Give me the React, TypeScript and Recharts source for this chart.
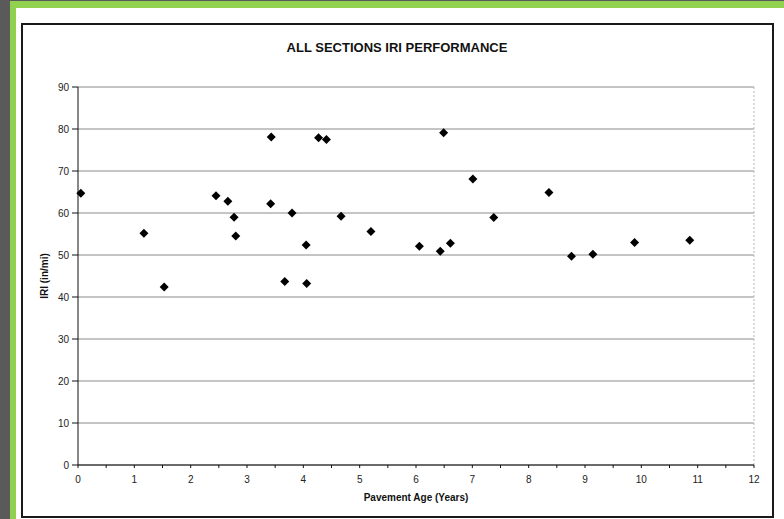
import { ScatterChart, Scatter, XAxis, YAxis, CartesianGrid, ReferenceLine } from 'recharts';

const ageYears = [
  0.05, 1.17, 1.53, 2.45, 2.66, 2.77, 2.8, 3.42, 3.43, 3.67, 3.8, 4.05, 4.06, 4.27,
  4.41, 4.67, 5.2, 6.06, 6.43, 6.49, 6.61, 7.01, 7.38, 8.36, 8.76, 9.14, 9.88, 10.86,
];
const iriValues = [
  64.7, 55.2, 42.4, 64.1, 62.8, 59.0, 54.5, 62.2, 78.1, 43.7, 60.0, 52.4, 43.2, 77.9,
  77.5, 59.2, 55.6, 52.1, 50.9, 79.1, 52.8, 68.1, 58.9, 64.9, 49.7, 50.2, 53.0, 53.5,
];
const xTicks = [0, 0.5, 1, 1.5, 2, 2.5, 3, 3.5, 4, 4.5, 5, 5.5, 6, 6.5, 7, 7.5, 8, 8.5, 9, 9.5, 10, 10.5, 11, 11.5, 12];
const yTicks = [0, 10, 20, 30, 40, 50, 60, 70, 80, 90];

const points = ageYears.map((age, i) => ({ age, iri: iriValues[i] }));

const FONT = '"Liberation Sans", Arial, sans-serif';

function Diamond(props: any) {
  const { cx, cy } = props;
  const r = 4.5;
  return (
    <polygon
      points={`${cx},${cy - r} ${cx + r},${cy} ${cx},${cy + r} ${cx - r},${cy}`}
      fill="#000"
    />
  );
}

export default function App() {
  return (
    <div style={{ position: 'absolute', left: 0, top: 0, width: 784, height: 519, background: '#5a5a5a', overflow: 'hidden' }}>
      <div style={{ position: 'absolute', left: 10, top: 1, right: 0, bottom: 0, background: '#92d050' }} />
      <div style={{ position: 'absolute', left: 16, top: 8, right: 0, bottom: 0, background: '#fff' }} />
      <div
        style={{
          position: 'absolute', left: 21, top: 23, width: 753, height: 495,
          border: '2px solid #1a1a1a', boxSizing: 'border-box',
        }}
      />
      <div
        style={{
          position: 'absolute', left: 0, top: 40, width: 794, textAlign: 'center',
          fontFamily: FONT, fontWeight: 'bold', fontSize: 13, color: '#111',
        }}
      >
        ALL SECTIONS IRI PERFORMANCE
      </div>
      <div style={{ position: 'absolute', left: 0, top: 0 }}>
        <ScatterChart width={784} height={519} margin={{ top: 87, right: 30, bottom: 24, left: 38 }}>
          <CartesianGrid vertical={false} stroke="#8a8a8a" strokeWidth={1} />
          <ReferenceLine x={12} stroke="#b5b5b5" strokeDasharray="2 2" />
          <XAxis
            type="number"
            dataKey="age"
            domain={[0, 12]}
            ticks={xTicks}
            interval={0}
            tickFormatter={(v: number) => (Number.isInteger(v) ? String(v) : '')}
            height={30}
            tickSize={3}
            tickMargin={8}
            axisLine={{ stroke: '#111' }}
            tickLine={{ stroke: '#111' }}
            tick={{ fontSize: 10, fill: '#222', fontFamily: FONT }}
            label={{
              value: 'Pavement Age (Years)', position: 'insideBottom', offset: -6,
              style: { fontSize: 10, fontWeight: 'bold', fill: '#111', fontFamily: FONT },
            }}
          />
          <YAxis
            type="number"
            dataKey="iri"
            domain={[0, 90]}
            ticks={yTicks}
            interval={0}
            width={40}
            tickSize={6}
            tickMargin={3}
            axisLine={{ stroke: '#111' }}
            tickLine={{ stroke: '#111' }}
            tick={{ fontSize: 10, fill: '#222', fontFamily: FONT }}
            label={{
              value: 'IRI (in/mi)', angle: -90, position: 'insideLeft', offset: 6,
              style: { fontSize: 10, fontWeight: 'bold', fill: '#111', fontFamily: FONT, textAnchor: 'middle' },
            }}
          />
          <Scatter data={points} shape={<Diamond />} isAnimationActive={false} />
        </ScatterChart>
      </div>
    </div>
  );
}
